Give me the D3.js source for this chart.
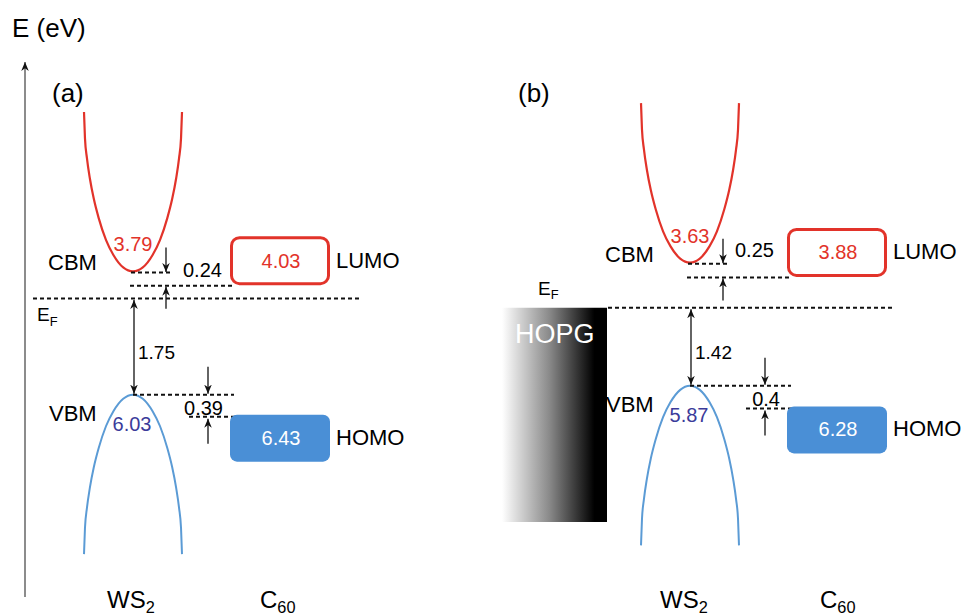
<!DOCTYPE html>
<html>
<head>
<meta charset="utf-8">
<script src="https://cdnjs.cloudflare.com/ajax/libs/d3/7.8.5/d3.min.js"></script>
<style>
body { margin: 0; background: #fff; }
text { font-family: "Liberation Sans", Arial, sans-serif; }
</style>
</head>
<body>
<div id="chart"></div>
<script>
const panels = ["(a)", "(b)"];
const cbm = [3.79, 3.63];
const vbm = [6.03, 5.87];
const lumo = [4.03, 3.88];
const homo = [6.43, 6.28];
const gapToFermi = [1.75, 1.42];
const cbmOffsetLabels = ["0.24", "0.25"];
const homoOffsetLabels = ["0.39", "0.4"];
// band shape: relative wavevector and energy away from the band edge (eV)
const kPoints = [-1, -0.98, -0.94, -0.88, -0.8, -0.7, -0.55, -0.4, -0.2, 0,
                 0.2, 0.4, 0.55, 0.7, 0.8, 0.88, 0.94, 0.98, 1];
const bandShape = [2.9, 2.42, 2.06, 1.69, 1.32, 0.97, 0.57, 0.3, 0.073, 0,
                   0.073, 0.3, 0.57, 0.97, 1.32, 1.69, 2.06, 2.42, 2.9];

const width = 963, height = 616;
const red = "#e2332a", blue = "#5b9bd5", homoFill = "#4a8fd6", vbText = "#3b3b9a";

const svg = d3.select("#chart")
  .append("svg")
    .attr("width", width)
    .attr("height", height);

const defs = svg.append("defs");
defs.append("marker")
    .attr("id", "arr")
    .attr("viewBox", "0 0 10 10")
    .attr("refX", 10).attr("refY", 5)
    .attr("markerWidth", 9).attr("markerHeight", 9)
    .attr("markerUnits", "userSpaceOnUse")
    .attr("orient", "auto-start-reverse")
  .append("path")
    .attr("d", "M0,0.8 L10,5 L0,9.2 L3,5 Z")
    .attr("fill", "#111");

const grad = defs.append("linearGradient").attr("id", "hopg");
grad.append("stop").attr("offset", "0%").attr("stop-color", "#ffffff");
grad.append("stop").attr("offset", "45%").attr("stop-color", "#8a8a8a");
grad.append("stop").attr("offset", "88%").attr("stop-color", "#000000");
grad.append("stop").attr("offset", "100%").attr("stop-color", "#000000");

// energy scale shared by both panels (eV below vacuum, grows downward)
const y = d3.scaleLinear().domain([0, 10]).range([63, 613]);

// energy axis
svg.append("line")
    .attr("x1", 25).attr("x2", 25)
    .attr("y1", 597).attr("y2", 62)
    .attr("stroke", "#666").attr("stroke-width", 1.5)
    .attr("marker-end", "url(#arr)");
svg.append("text")
    .attr("x", 12).attr("y", 37)
    .attr("font-size", 26)
    .text("E (eV)");

const panelX = [0, 557];
const panelLabelX = [52, 518];
const fermiLineX = [[33, 362], [51, 336]];
const cbmLabelPos = [[183, 277], [178, 257]];
const cx = 133;

function dashed(g, x1, x2, yy) {
  g.append("line")
    .attr("x1", x1).attr("x2", x2)
    .attr("y1", yy).attr("y2", yy)
    .attr("stroke", "#111")
    .attr("stroke-width", 2)
    .attr("stroke-dasharray", "4,3");
}
function arrow(g, x, y1, y2, both) {
  const l = g.append("line")
    .attr("x1", x).attr("x2", x)
    .attr("y1", y1).attr("y2", y2)
    .attr("stroke", "#111").attr("stroke-width", 1.3)
    .attr("marker-end", "url(#arr)");
  if (both) l.attr("marker-start", "url(#arr)");
}
function sub(g, x, yy, main, s, size, anchor) {
  const t = g.append("text")
    .attr("x", x).attr("y", yy)
    .attr("font-size", size)
    .attr("text-anchor", anchor || "start");
  t.append("tspan").text(main);
  t.append("tspan").attr("font-size", size * 0.68).attr("dy", size * 0.22).text(s);
}

panels.forEach((name, i) => {
  const g = svg.append("g").attr("transform", `translate(${panelX[i]},0)`);
  const fermi = vbm[i] - gapToFermi[i];
  const kx = d3.scaleLinear().domain([-1, 1]).range([cx - 49, cx + 49]);

  svg.append("text")
      .attr("x", panelLabelX[i]).attr("y", 102)
      .attr("font-size", 26)
      .text(name);

  if (i === 1) {
    g.append("rect")
        .attr("x", -55).attr("y", y(fermi))
        .attr("width", 105).attr("height", 522 - y(fermi))
        .attr("fill", "url(#hopg)");
    g.append("text")
        .attr("x", -42).attr("y", y(fermi) + 35)
        .attr("font-size", 27)
        .attr("fill", "#fff")
        .text("HOPG");
  }

  const cbLine = d3.line()
      .x((k, j) => kx(k))
      .y((k, j) => y(cbm[i] - bandShape[j]))
      .curve(d3.curveMonotoneX);
  const vbLine = d3.line()
      .x((k, j) => kx(k))
      .y((k, j) => y(vbm[i] + bandShape[j]))
      .curve(d3.curveMonotoneX);

  g.append("path")
      .datum(kPoints)
      .attr("d", cbLine)
      .attr("fill", "none")
      .attr("stroke", red)
      .attr("stroke-width", 2.2);
  g.append("path")
      .datum(kPoints)
      .attr("d", vbLine)
      .attr("fill", "none")
      .attr("stroke", blue)
      .attr("stroke-width", 2);

  // levels
  dashed(g, cx - 2, cx + 40, y(cbm[i]) + 1);
  dashed(g, cx - 3, cx + 99, y(lumo[i]) + 1);
  dashed(g, cx, cx + 101, y(vbm[i]));
  dashed(g, cx + 56, cx + 102, y(homo[i]));
  dashed(g, fermiLineX[i][0], fermiLineX[i][1], y(fermi));

  // arrows
  arrow(g, 166, y(cbm[i]) - 24, y(cbm[i]) + 0.5);
  arrow(g, 166, y(lumo[i]) + 24, y(lumo[i]) + 2);
  arrow(g, 208, y(vbm[i]) - 28, y(vbm[i]) - 1);
  arrow(g, 208, y(homo[i]) + 27, y(homo[i]) + 2);
  arrow(g, cx + 1, y(fermi) + 1.5, y(vbm[i]) - 1, true);

  // numbers next to the band edges
  g.append("text")
      .attr("x", cx).attr("y", y(cbm[i]) - 20)
      .attr("text-anchor", "middle")
      .attr("font-size", 20).attr("fill", red)
      .text(cbm[i].toFixed(2));
  g.append("text")
      .attr("x", cx - 1).attr("y", y(vbm[i]) + 36)
      .attr("text-anchor", "middle")
      .attr("font-size", 20).attr("fill", vbText)
      .text(vbm[i].toFixed(2));
  g.append("text")
      .attr("x", cx + 5).attr("y", (y(fermi) + y(vbm[i])) / 2 + 12)
      .attr("font-size", 19)
      .text(gapToFermi[i].toFixed(2));
  g.append("text")
      .attr("x", cbmLabelPos[i][0]).attr("y", cbmLabelPos[i][1])
      .attr("font-size", 20)
      .text(cbmOffsetLabels[i]);
  g.append("text")
      .attr("x", 223).attr("y", y(homo[i]) - 2)
      .attr("text-anchor", "end")
      .attr("font-size", 20)
      .text(homoOffsetLabels[i]);

  g.append("text")
      .attr("x", 48).attr("y", y(cbm[i]) - 1)
      .attr("font-size", 22)
      .text("CBM");
  g.append("text")
      .attr("x", 49).attr("y", y(vbm[i]) + 26)
      .attr("font-size", 22)
      .text("VBM");

  if (i === 0) sub(g, 37, y(fermi) + 23, "E", "F", 19);
  else sub(g, -19, y(fermi) - 13, "E", "F", 19);

  // C60 levels
  const lumoTop = y(lumo[i]) - 47;
  g.append("rect")
      .attr("x", 231.5).attr("y", lumoTop)
      .attr("width", 97).attr("height", 46)
      .attr("rx", 8)
      .attr("fill", "#fff")
      .attr("stroke", red).attr("stroke-width", 3);
  g.append("text")
      .attr("x", 281).attr("y", lumoTop + 30)
      .attr("text-anchor", "middle")
      .attr("font-size", 20).attr("fill", red)
      .text(lumo[i].toFixed(2));
  g.append("text")
      .attr("x", 336).attr("y", lumoTop + 30)
      .attr("font-size", 22)
      .text("LUMO");

  const homoTop = y(homo[i]) - 2;
  g.append("rect")
      .attr("x", 230).attr("y", homoTop)
      .attr("width", 100).attr("height", 47)
      .attr("rx", 7)
      .attr("fill", homoFill);
  g.append("text")
      .attr("x", 281).attr("y", homoTop + 30)
      .attr("text-anchor", "middle")
      .attr("font-size", 20).attr("fill", "#fff")
      .text(homo[i].toFixed(2));
  g.append("text")
      .attr("x", 336).attr("y", homoTop + 30)
      .attr("font-size", 22)
      .text("HOMO");

  sub(g, i === 0 ? 107 : 103, 608, "WS", "2", 24);
  sub(g, i === 0 ? 260 : 263, 608, "C", "60", 24);
});
</script>
</body>
</html>
